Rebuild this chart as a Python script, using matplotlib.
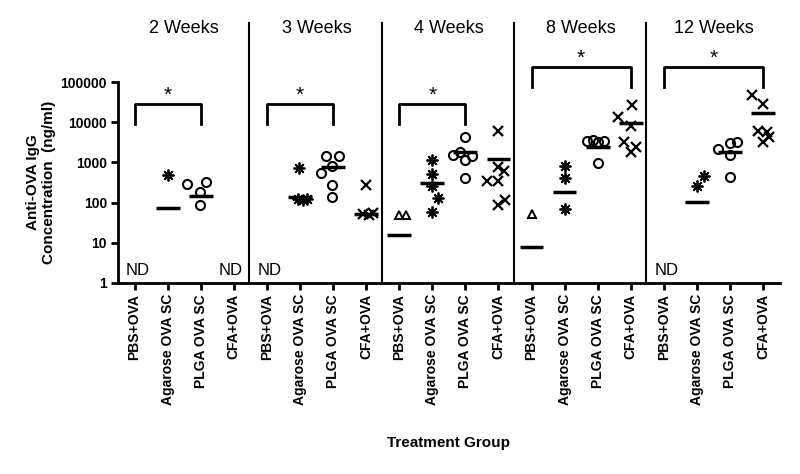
import matplotlib
matplotlib.use("agg")
import matplotlib.pyplot as plt
import matplotlib.transforms as mtransforms

plt.rcParams['font.family'] = ['Liberation Sans', 'DejaVu Sans']

weeks = ['2 Weeks', '3 Weeks', '4 Weeks', '8 Weeks', '12 Weeks']
groups = ['PBS+OVA', 'Agarose OVA SC', 'PLGA OVA SC', 'CFA+OVA']

# values per week (ng/ml), None = not detected
pbs_vals = [None, None, [49, 49], [52], None]
pbs_jit = [None, None, [0.0, 0.2], [0.0], None]
pbs_med = [None, None, 15.6, 7.7, None]

aga_vals = [[490], [713, 121, 118, 125], [1150, 506, 259, 128, 59], [813, 416, 69], [264, 467]]
aga_jit = [[0.0], [-0.03, -0.07, 0.08, 0.2], [0, 0, 0, 0.18, 0], [0, 0, 0], [0, 0.2]]
aga_med = [72, 140, 302, 187, 105]

plga_vals = [[285, 320, 180, 87], [1443, 1443, 828, 535, 274, 135],
             [4200, 1500, 1800, 1170, 1480, 410], [3400, 3700, 3300, 3450, 985],
             [2120, 2985, 3270, 1530, 441]]
plga_jit = [[-0.4, 0.17, -0.03, -0.03], [-0.2, 0.18, -0.02, -0.37, -0.02, -0.02],
            [0, -0.37, -0.15, 0, 0.19, 0], [-0.33, -0.13, 0.02, 0.2, 0],
            [-0.35, 0, 0.2, 0, 0]]
plga_med = [148, 782, 1800, 2460, 1800]

cfa_vals = [None, [274, 52, 50, 54], [5900, 782, 622, 344, 344, 87, 116],
            [26800, 13700, 8040, 3270, 2376, 1845], [47500, 28400, 6150, 5800, 4210, 3270]]
cfa_jit = [None, [0, -0.08, 0.08, 0.2], [0, 0, 0.17, -0.36, 0, 0, 0.19],
           [0.03, -0.38, 0, -0.2, 0.16, 0], [-0.34, 0, -0.14, 0.13, 0.19, 0]]
cfa_med = [None, 53, 1195, 9390, 16600]

# significance brackets: (first group, last group, top, leg bottom)
brackets = [(0, 2, 28000, 9000), (0, 2, 28000, 9000), (0, 2, 28000, 9000),
            (0, 3, 232000, 76000), (0, 3, 232000, 76000)]

all_vals = [pbs_vals, aga_vals, plga_vals, cfa_vals]
all_jit = [pbs_jit, aga_jit, plga_jit, cfa_jit]
all_med = [pbs_med, aga_med, plga_med, cfa_med]
markers = [dict(marker='^', ms=6, mfc='none', mec='black', mew=1.4),
           dict(marker=(8, 2, 0), ms=8.5, mec='black', mew=1.3),
           dict(marker='o', ms=6.5, mfc='none', mec='black', mew=1.5),
           dict(marker='x', ms=7.5, mec='black', mew=1.6)]

fig = plt.figure(figsize=(8, 4.74), dpi=100)
ax = fig.add_axes([0.1475, 0.403, 0.827, 0.424])
ax.set_yscale('log')
ax.set_ylim(1, 100000)
ax.set_xlim(-0.5, 19.5)

for w in range(len(weeks)):
    for g in range(len(groups)):
        pos = 4 * w + g
        vals = all_vals[g][w]
        if vals is None:
            ax.text(pos + (0.08 if g == 0 else -0.1), 2.1, 'ND', fontsize=12,
                    ha='center', va='center')
            continue
        xs = [pos + j for j in all_jit[g][w]]
        ax.plot(xs, vals, linestyle='none', color='black', **markers[g])
        ax.plot([pos - 0.36, pos + 0.36], [all_med[g][w]] * 2, color='black', lw=2.5,
                solid_capstyle='butt')
    b0, b1, top, bot = brackets[w]
    x0, x1 = 4 * w + b0, 4 * w + b1
    ax.plot([x0, x0, x1, x1], [bot, top, top, bot], color='black', lw=2, clip_on=False)
    ax.text((x0 + x1) / 2, top * 1.2, '*', fontsize=15, ha='center', va='baseline')

trans = mtransforms.blended_transform_factory(ax.transData, ax.transAxes)
for sx in [3.45, 7.47, 11.47, 15.47]:
    ax.plot([sx, sx], [0, 1.294], color='black', lw=1.5, transform=trans, clip_on=False)
for w in range(len(weeks)):
    ax.text(4 * w + 1.5, 1.265, weeks[w], fontsize=13, ha='center', va='center',
            transform=trans)

ax.spines['top'].set_visible(False)
ax.spines['right'].set_visible(False)
ax.spines['left'].set_linewidth(2)
ax.spines['bottom'].set_linewidth(2)
ax.set_xticks(range(20))
ax.set_xticklabels(groups * 5, rotation=90, fontsize=10, fontweight='bold')
ax.set_yticks([1, 10, 100, 1000, 10000, 100000])
ax.set_yticklabels(['1', '10', '100', '1000', '10000', '100000'], fontsize=10,
                   fontweight='bold')
ax.minorticks_off()
ax.tick_params(axis='both', width=2, length=5, pad=3)
ax.set_ylabel('Anti-OVA IgG\nConcentration  (ng/ml)', fontsize=11, fontweight='bold',
              labelpad=3)
fig.text(0.561, 1 - 443 / 474, 'Treatment Group', fontsize=11, fontweight='bold',
         ha='center', va='center')

plt.savefig('out.png', dpi=100)
